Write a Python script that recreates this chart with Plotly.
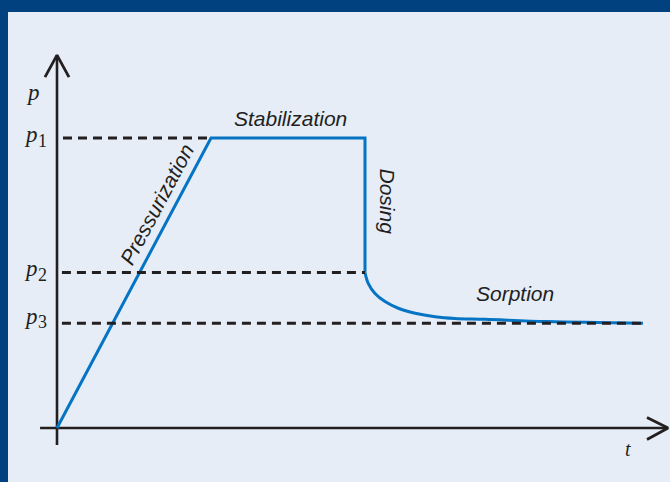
import plotly.graph_objects as go

# ---- data (abstract units: t = time, p = pressure) ----
p1, p2, p3 = 10.0, 5.36, 3.61
t_press_end = 10.0
t_dose = 20.0

path_t = [0, t_press_end, t_dose, t_dose]
path_p = [0, p1, p1, p2]

sorp_t = [20.0, 20.21, 20.65, 21.30, 22.16, 23.25, 24.55, 25.84, 27.79, 31.82, 38.05]
sorp_p = [5.36, 4.99, 4.64, 4.36, 4.13, 3.96, 3.84, 3.78, 3.75, 3.67, 3.61]

dash_levels = [p1, p2, p3]
dash_start = [0.39, 0.32, 0.32]
dash_end = [t_press_end, t_dose, 38.05]
level_digits = ["1", "2", "3"]

phase_labels = ["Pressurization", "Stabilization", "Dosing", "Sorption"]
phase_t = [6.46, 15.16, 21.43, 29.74]
phase_p = [7.72, 10.69, 7.81, 4.655]
phase_angle = [-62, 0, 90, 0]

# axes geometry (data units)
xaxis_t = [-1.10, 39.68]
yaxis_p = [-0.59, 12.86]

INK = "#231f20"
BLUE = "#0574c4"
BG = "#e6edf7"
NAVY = "#01417f"

fig = go.Figure()

# axis lines
fig.add_trace(go.Scatter(x=xaxis_t, y=[0, 0], mode="lines",
                         line=dict(color=INK, width=2.6), hoverinfo="skip"))
fig.add_trace(go.Scatter(x=[0, 0], y=yaxis_p, mode="lines",
                         line=dict(color=INK, width=2.6), hoverinfo="skip"))
# arrow heads
fig.add_trace(go.Scatter(x=[38.31, xaxis_t[1], 38.31], y=[0.36, 0, -0.40], mode="lines",
                         line=dict(color=INK, width=2.8), hoverinfo="skip"))
fig.add_trace(go.Scatter(x=[-0.78, 0, 0.78], y=[12.10, yaxis_p[1], 12.10], mode="lines",
                         line=dict(color=INK, width=2.8), hoverinfo="skip"))

# process curve
fig.add_trace(go.Scatter(x=path_t, y=path_p, mode="lines",
                         line=dict(color=BLUE, width=3), hoverinfo="skip"))
fig.add_trace(go.Scatter(x=sorp_t, y=sorp_p, mode="lines",
                         line=dict(color=BLUE, width=3, shape="spline", smoothing=1),
                         hoverinfo="skip"))

# dashed levels
for lv, s, e in zip(dash_levels, dash_start, dash_end):
    fig.add_trace(go.Scatter(x=[s, e], y=[lv, lv], mode="lines",
                             line=dict(color=INK, width=3, dash="9px,6px"),
                             hoverinfo="skip"))

serif = "Liberation Serif"
sans = "Liberation Sans"

# p axis label and t label
fig.add_annotation(x=-1.558, y=11.586, text="<i>p</i>", showarrow=False,
                   font=dict(family=serif, size=23, color=INK))
fig.add_annotation(x=37.08, y=-0.724, text="<i>t</i>", showarrow=False,
                   font=dict(family=serif, size=20, color=INK))

# level labels: italic p followed by a lowered digit
p_box = [10.138, 5.517, 3.828]
d_box = [9.90, 5.29, 3.65]
for pb, db, dg in zip(p_box, d_box, level_digits):
    fig.add_annotation(x=-1.234, y=pb, text="<i>p</i>", showarrow=False, xanchor="right",
                       borderpad=0, borderwidth=0,
                       font=dict(family=serif, size=23, color=INK))
    fig.add_annotation(x=-1.214, y=db, text=dg, showarrow=False, xanchor="left",
                       borderpad=0, borderwidth=0,
                       font=dict(family=serif, size=18, color=INK))

# phase labels
for lab, tx, py, ang in zip(phase_labels, phase_t, phase_p, phase_angle):
    fig.add_annotation(x=tx, y=py, text=lab, showarrow=False, textangle=ang,
                       font=dict(family=sans, size=21, color=INK, style="italic"))

# navy frame (top and left)
fig.add_shape(type="rect", xref="paper", yref="paper", x0=0, x1=8/670, y0=0, y1=1,
              fillcolor=NAVY, line=dict(width=0), layer="above")
fig.add_shape(type="rect", xref="paper", yref="paper", x0=0, x1=1, y0=1-12/482, y1=1,
              fillcolor=NAVY, line=dict(width=0), layer="above")

fig.update_layout(
    width=670, height=482,
    margin=dict(l=0, r=0, t=0, b=0),
    paper_bgcolor=BG, plot_bgcolor=BG,
    showlegend=False,
    xaxis=dict(visible=False, range=[-3.701, 39.805], fixedrange=True),
    yaxis=dict(visible=False, range=[-1.862, 14.759], fixedrange=True),
)

fig.write_html("out.html", config={"displayModeBar": False},
               post_script="document.body.style.margin='0';document.body.style.overflow='hidden';")
